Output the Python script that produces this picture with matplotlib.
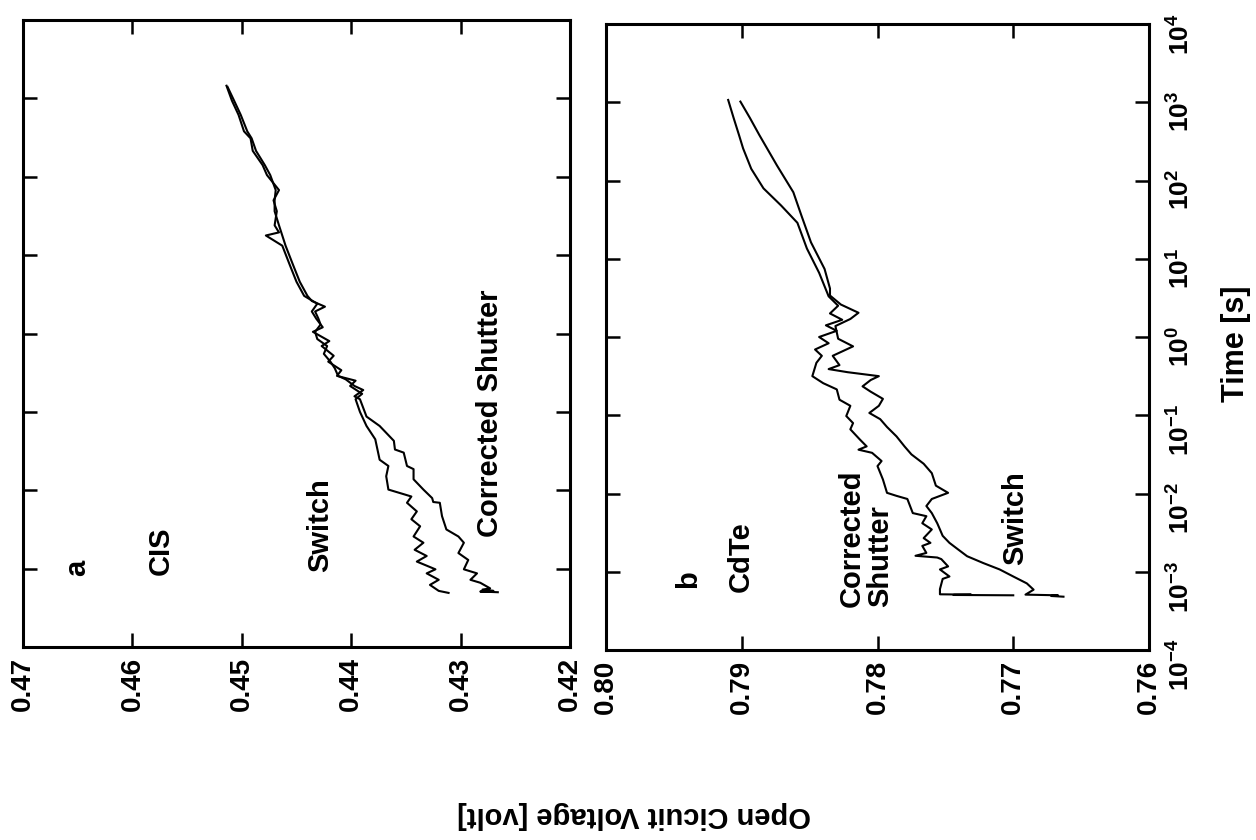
import matplotlib
matplotlib.use('Agg')
import matplotlib.pyplot as plt
from matplotlib.ticker import FixedLocator, FixedFormatter, NullLocator

plt.rcParams['font.family'] = ['Liberation Sans', 'DejaVu Sans']
plt.rcParams['font.weight'] = 'bold'
plt.rcParams['mathtext.fontset'] = 'custom'
plt.rcParams['mathtext.rm'] = 'Liberation Sans:bold'
plt.rcParams['mathtext.bf'] = 'Liberation Sans:bold'
plt.rcParams['mathtext.it'] = 'Liberation Sans:bold'
plt.rcParams['mathtext.default'] = 'bf'

# ---- panel a: CIS ----
switch_a_t = [4.9e-4, 5.2e-4, 6.2e-4, 7.2e-4, 8.7e-4, 9.8e-4, 1.23e-3, 1.45e-3, 1.74e-3,
              2.14e-3, 2.57e-3, 3.47e-3, 4.27e-3, 5.37e-3, 6.92e-3, 8.32e-3, 8.91e-3,
              1.02e-2, 1.51e-2, 2.04e-2, 2.45e-2, 4.47e-2, 6.61e-2, 0.100, 0.145,
              0.17, 0.214, 0.25, 0.288, 0.34, 0.437, 0.52, 0.692, 0.80, 1.05, 1.20,
              1.55, 1.91, 2.4, 3.02, 4.57, 7.41, 13.2, 17.8, 19.5, 24.0, 36.3, 50.0,
              67.6, 105, 141, 214, 309, 380, 617, 933, 1450]
switch_a_v = [0.4311, 0.4320, 0.4328, 0.4320, 0.4331, 0.4323, 0.4340, 0.4331, 0.4342,
              0.4334, 0.4343, 0.4337, 0.4345, 0.4340, 0.4349, 0.4345, 0.4352,
              0.4366, 0.4368, 0.4366, 0.4374, 0.4378, 0.4386, 0.4392, 0.4396,
              0.4390, 0.4401, 0.4396, 0.4413, 0.4409, 0.4421, 0.4416, 0.4427, 0.4420,
              0.4435, 0.4426, 0.4432, 0.4436, 0.4431, 0.4443, 0.4450, 0.4456, 0.4463,
              0.4478, 0.4466, 0.4470, 0.4468, 0.4471, 0.4466, 0.4477, 0.4481, 0.4490,
              0.4492, 0.4498, 0.4503, 0.4509, 0.4514]

corr_a_t = [5.0e-4, 5.1e-4, 5.2e-4, 5.4e-4, 5.6e-4, 6.6e-4, 7.2e-4, 8.7e-4, 9.8e-4,
            1.29e-3, 1.58e-3, 2.14e-3, 2.57e-3, 3.16e-3, 4.68e-3, 6.92e-3, 7.08e-3,
            7.94e-3, 1.02e-2, 1.38e-2, 1.86e-2, 2.04e-2, 3.02e-2, 3.31e-2, 4.27e-2,
            6.61e-2, 8.71e-2, 0.145, 0.158, 0.19, 0.214, 0.26, 0.288, 0.36, 0.437,
            0.55, 0.692, 0.85, 1.05, 1.3, 1.55, 1.91, 2.2, 2.6, 3.02, 4.57, 7.41,
            13.2, 24.0, 36.3, 50.0, 67.6, 105, 141, 214, 309, 380, 617, 933, 1400]
corr_a_v = [0.4266, 0.4282, 0.4270, 0.4280, 0.4273, 0.4282, 0.4291, 0.4285, 0.4297,
            0.4293, 0.4302, 0.4297, 0.4302, 0.4313, 0.4317, 0.4319, 0.4325,
            0.4326, 0.4334, 0.4343, 0.4343, 0.4349, 0.4352, 0.4360, 0.4361,
            0.4374, 0.4386, 0.4392, 0.4397, 0.4389, 0.4397, 0.4405, 0.4412, 0.4415,
            0.4419, 0.4425, 0.4422, 0.4431, 0.4433, 0.4428, 0.4430, 0.4433, 0.4424,
            0.4436, 0.4440, 0.4447, 0.4453, 0.4460, 0.4466, 0.4470, 0.4470, 0.4469,
            0.4474, 0.4479, 0.4487, 0.4491, 0.4495, 0.4501, 0.4507, 0.4513]

# ---- panel b: CdTe ----
switch_b_t = [4.8e-4, 4.9e-4, 5.0e-4, 5.1e-4, 5.9e-4, 7.1e-4, 8.7e-4, 1.07e-3, 1.29e-3,
              1.58e-3, 1.95e-3, 2.34e-3, 2.88e-3, 3.47e-3, 4.17e-3, 5.62e-3, 6.92e-3,
              8.51e-3, 1.02e-2, 1.26e-2, 1.82e-2, 2.40e-2, 3.16e-2, 3.98e-2, 5.37e-2,
              7.08e-2, 8.91e-2, 0.107, 0.132, 0.162, 0.200, 0.234, 0.282, 0.316, 0.355,
              0.389, 0.437, 0.575, 0.759, 0.95, 1.38, 1.7, 2.04, 2.6, 3.39, 4.17, 7.41,
              16.2, 35.5, 70.8, 155, 380, 631, 1020]
switch_b_v = [0.7663, 0.7672, 0.7667, 0.7691, 0.7685, 0.7690, 0.7700, 0.7710, 0.7722,
              0.7734, 0.7741, 0.7747, 0.7752, 0.7754, 0.7756, 0.7760, 0.7764,
              0.7760, 0.7748, 0.7757, 0.7760, 0.7766, 0.7775, 0.7780, 0.7786,
              0.7793, 0.7798, 0.7806, 0.7799, 0.7796, 0.7805, 0.7811, 0.7805, 0.7799,
              0.7822, 0.7836, 0.7828, 0.7833, 0.7818, 0.7829, 0.7831, 0.7820, 0.7814,
              0.7827, 0.7835, 0.7835, 0.7839, 0.7849, 0.7856, 0.7862, 0.7874, 0.7887,
              0.7894, 0.7901]

corr_b_t = [5.0e-4, 5.05e-4, 5.1e-4, 5.15e-4, 6.0e-4, 8.1e-4, 8.7e-4, 1.07e-3, 1.17e-3,
            1.45e-3, 1.52e-3, 1.6e-3, 1.74e-3, 2.14e-3, 2.34e-3, 2.69e-3, 3.47e-3,
            4.17e-3, 5.13e-3, 5.62e-3, 8.51e-3, 9.33e-3, 1.02e-2, 1.51e-2, 2.24e-2,
            2.6e-2, 3.31e-2, 3.63e-2, 4.0e-2, 4.90e-2, 6.61e-2, 7.94e-2, 9.77e-2,
            0.132, 0.158, 0.214, 0.257, 0.316, 0.468, 0.575, 0.692, 0.832, 1.0, 1.20,
            1.41, 1.66, 2.0, 2.51, 3.31, 6.61, 13.5, 28.8, 47.9, 79.4, 141, 257, 380,
            631, 1070]
corr_b_v = [0.7700, 0.7744, 0.7731, 0.7754, 0.7754, 0.7752, 0.7747, 0.7754, 0.7748,
            0.7753, 0.7756, 0.7772, 0.7764, 0.7767, 0.7761, 0.7766, 0.7760,
            0.7767, 0.7764, 0.7774, 0.7778, 0.7786, 0.7793, 0.7796, 0.7800,
            0.7797, 0.7804, 0.7814, 0.7808, 0.7813, 0.7820, 0.7818, 0.7823,
            0.7820, 0.7828, 0.7830, 0.7840, 0.7848, 0.7845, 0.7841, 0.7846, 0.7836,
            0.7843, 0.7830, 0.7838, 0.7826, 0.7835, 0.7829, 0.7836, 0.7843, 0.7852,
            0.7859, 0.7871, 0.7884, 0.7893, 0.7899, 0.7902, 0.7906, 0.7910]

volt_ticks_a = [0.47, 0.46, 0.45, 0.44, 0.43, 0.42]
volt_labels_a = ['0.47', '0.46', '0.45', '0.44', '0.43', '0.42']
volt_ticks_b = [0.80, 0.79, 0.78, 0.77, 0.76]
volt_labels_b = ['0.80', '0.79', '0.78', '0.77', '0.76']
time_ticks = [1e-4, 1e-3, 1e-2, 1e-1, 1e0, 1e1, 1e2, 1e3, 1e4]
time_labels = [r'$10^{-4}$', r'$10^{-3}$', r'$10^{-2}$', r'$10^{-1}$', r'$10^{0}$',
               r'$10^{1}$', r'$10^{2}$', r'$10^{3}$', r'$10^{4}$']

W, H = 1256, 840
fig = plt.figure(figsize=(W / 100, H / 100), dpi=100)
ax_a = fig.add_axes([23 / W, (H - 647) / H, 547 / W, 627 / H])
ax_b = fig.add_axes([606 / W, (H - 650) / H, 543 / W, 626 / H])


def style_axes(ax, vticks, vlabels):
    ax.set_yscale('log')
    ax.set_ylim(1e-4, 1e4)
    ax.set_xlim(vticks[0], vticks[-1])
    ax.xaxis.set_major_locator(FixedLocator(vticks))
    ax.xaxis.set_major_formatter(FixedFormatter(vlabels))
    ax.yaxis.set_major_locator(FixedLocator(time_ticks))
    ax.yaxis.set_major_formatter(FixedFormatter(time_labels))
    ax.yaxis.set_minor_locator(NullLocator())
    ax.tick_params(direction='in', length=10, width=1.8, top=True, right=True,
                   labelleft=False)
    ax.tick_params(axis='x', labelsize=20, labelrotation=90, pad=7)
    for sp in ax.spines.values():
        sp.set_linewidth(2.2)


style_axes(ax_a, volt_ticks_a, volt_labels_a)
style_axes(ax_b, volt_ticks_b, volt_labels_b)
ax_b.tick_params(axis='y', labelright=True, labelsize=19, labelrotation=90, pad=13)

ax_a.plot(switch_a_v, switch_a_t, color='black', lw=1.5)
ax_a.plot(corr_a_v, corr_a_t, color='black', lw=1.5)
ax_b.plot(switch_b_v, switch_b_t, color='black', lw=1.5)
ax_b.plot(corr_b_v, corr_b_t, color='black', lw=1.5)

txt = dict(rotation=90, ha='center', va='bottom', fontsize=21, fontweight='bold')
ax_a.text(0.099, 0.113, 'a', transform=ax_a.transAxes, **txt)
ax_a.text(0.252, 0.115, 'CIS', transform=ax_a.transAxes, **txt)
ax_a.text(0.543, 0.120, 'Switch', transform=ax_a.transAxes, **txt)
ax_a.text(0.854, 0.175, 'Corrected Shutter', transform=ax_a.transAxes, **txt)

ax_b.text(0.151, 0.099, 'b', transform=ax_b.transAxes, **txt)
ax_b.text(0.249, 0.093, 'CdTe', transform=ax_b.transAxes, **txt)
ax_b.text(0.479, 0.069, 'Corrected\nShutter', transform=ax_b.transAxes,
          multialignment='left', linespacing=1.05, **txt)
ax_b.text(0.753, 0.136, 'Switch', transform=ax_b.transAxes, **txt)

fig.text(1236 / W, (H - 344) / H, 'Time [s]', rotation=90, ha='center', va='center',
         fontsize=22, fontweight='bold')
fig.text(634 / W, (H - 815) / H, 'Open Cicuit Voltage [volt]', rotation=180,
         ha='center', va='center', fontsize=21, fontweight='bold')

fig.savefig('out.png', dpi=100, facecolor='white')
